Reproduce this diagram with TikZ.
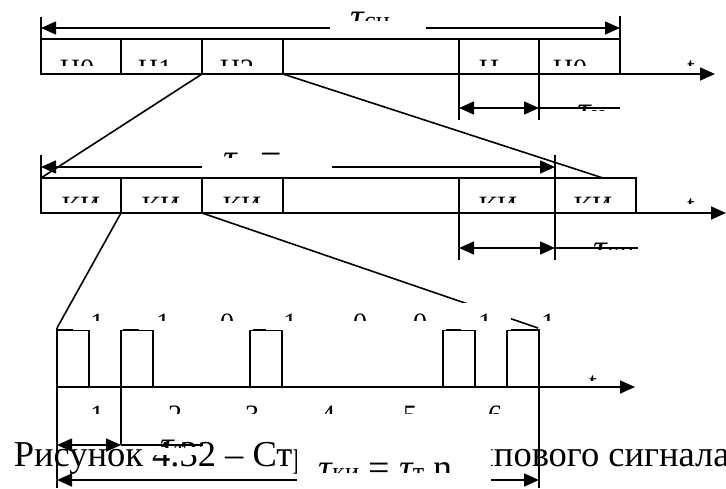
\documentclass[tikz,border=0pt]{standalone}
\usepackage{fontspec}
\setmainfont{Liberation Serif}
\usetikzlibrary{arrows.meta}
\newcommand{\tsub}[1]{{\fontsize{26}{26}\selectfont #1}}
\tikzset{
  boxlbl/.style={inner sep=0pt, anchor=base, font=\fontsize{28}{28}\selectfont},
  taulbl/.style={inner sep=0pt, anchor=base west, font=\fontsize{38}{38}\selectfont},
  blank/.style={fill=white}
}
\begin{document}
\begin{tikzpicture}[x=1pt, y=-1pt, line width=1.6pt, >={Triangle[length=15pt,width=13pt]}]
  \clip (0,0) rectangle (726,488);

  % caption
  \node[inner sep=0pt, anchor=base west, font=\fontsize{36.5}{40}\selectfont] (cap) at (13,466) {Рисунок 4.32 – Структура группового сигнала};

  % cycles
  \draw (41,39) rectangle (620,74);
  \foreach \x in {121,202,283,459,539} \draw (\x,39) -- (\x,74);
  \draw (41,17) -- (41,39);
  \draw (620,16) -- (620,39);
  \draw[<->] (41,28) -- (620,28);
  \draw[->] (620,74) -- (715,74);
  \draw (459,74) -- (459,120);
  \draw (539,74) -- (539,120);
  \draw[<->] (459,108) -- (539,108);
  \draw (539,108) -- (620,108);

  \draw (202,74) -- (41,178);
  \draw (283,74) -- (603,178);

  % channel intervals
  \draw (41,178) rectangle (636,213);
  \foreach \x in {121,202,283,459} \draw (\x,178) -- (\x,213);
  \draw (41,155) -- (41,178);
  \draw (555,155) -- (555,260);
  \draw[<->] (41,167) -- (555,167);
  \draw (459,213) -- (459,260);
  \draw[<->] (459,248) -- (555,248);
  \draw (555,248) -- (638,248);
  \draw[->] (636,213) -- (726,213);

  \draw (121,213) -- (57,328);
  \draw (202,213) -- (538,328);

  % bits
  \foreach \x in {57,121,250,443,507} \draw (\x,387) rectangle (\x+32,330);
  \draw[->] (57,387) -- (635,387);
  \draw (57,328) -- (57,488);
  \draw (121,330) -- (121,445);
  \draw (539,330) -- (539,488);
  \draw[<->] (57,445) -- (121,445);
  \draw (121,445) -- (203,445);
  \draw[<->] (57,480) -- (539,480);

  % white text boxes
  \fill[blank] (330,4) rectangle (426,36);
  \fill[blank] (202,145) rectangle (332,176);
  \foreach \x in {97,163,227,290,360,420,485} \fill[blank] (\x-24,303) rectangle (\x+26,330);
  \fill[blank] (148,447) rectangle (208,455);
  \fill[blank] (297,436) rectangle (491,488);

  % labels
  \foreach \n/\x/\t in {0/77/Ц0,1/155/Ц1,2/237/Ц2,3/489/Ц,4/570/Ц0} {
    \begin{scope}
      \clip (\x-50,40) rectangle (\x+50,65);
      \node[boxlbl] (cyc\n) at (\x,78.5) {\t};
    \end{scope}
  }
  \foreach \n/\x in {1/81,2/161,3/242,4/498,5/593} {
    \begin{scope}
      \clip (\x-50,179) rectangle (\x+50,202);
      \node[boxlbl] (ki\n) at (\x,215.5) {КИ};
    \end{scope}
  }
  \foreach \n/\x/\t in {1/97/1,2/163/1,3/227/0,4/290/1,5/360/0,6/420/0,7/485/1,8/548/1} {
    \begin{scope}
      \clip (\x-30,305) rectangle (\x+30,320);
      \node[boxlbl] (bit\n) at (\x,332) {\t};
    \end{scope}
  }
  \foreach \n/\x in {1/97,2/175,3/252,4/328,5/410,6/495} {
    \begin{scope}
      \clip (\x-30,395) rectangle (\x+30,413);
      \node[boxlbl] (pos\n) at (\x,424) {\n};
    \end{scope}
  }
  \foreach \n/\x/\y in {1/691/76,2/691/214,3/593/391} {
    \begin{scope}
      \clip (\x-20,\y-26) rectangle (\x+20,\y-11);
      \node[boxlbl] (t\n) at (\x,\y) {t};
    \end{scope}
  }

  \begin{scope}
    \clip (340,4) rectangle (430,20);
    \node[taulbl] (tsc) at (350,29) {{\itshape τ}\tsub{сц}};
  \end{scope}
  \begin{scope}
    \clip (215,146) rectangle (330,157);
    \node[taulbl] (tc) at (223,170) {{\itshape τ}\tsub{ц} =};
  \end{scope}
  \begin{scope}
    \clip (570,90) rectangle (625,110);
    \node[taulbl] (tc1) at (577,122) {{\itshape τ}\tsub{ц}};
  \end{scope}
  \begin{scope}
    \clip (585,230) rectangle (660,249);
    \node[taulbl] (tki) at (593,260) {{\itshape τ}\tsub{ки}};
  \end{scope}
  \begin{scope}
    \clip (150,430) rectangle (215,447);
    \node[taulbl] (tt) at (160,457) {{\itshape τ}\tsub{т}};
  \end{scope}
  \begin{scope}
    \clip (310,450) rectangle (480,472);
    \node[taulbl] (tki2) at (318,480) {{\itshape τ}\tsub{ки} = {\itshape τ}\tsub{т} n};
  \end{scope}
\end{tikzpicture}
\end{document}
